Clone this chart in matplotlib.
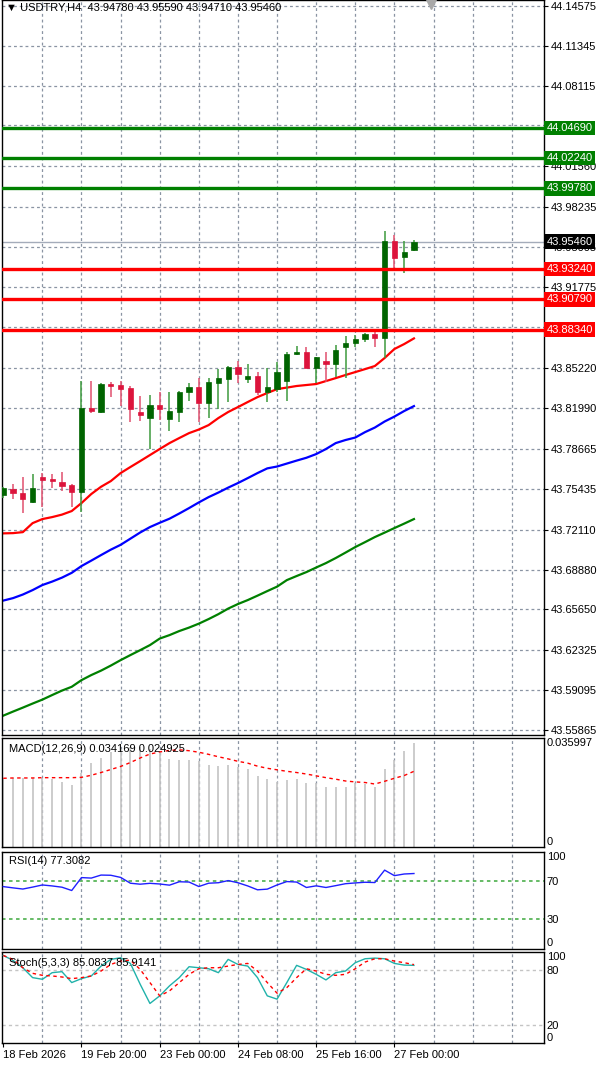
import matplotlib
matplotlib.use("Agg")
import matplotlib.pyplot as plt
from matplotlib.patches import Rectangle

plt.rcParams['font.family'] = ['Liberation Sans', 'DejaVu Sans']

# USDTRY H4 bars, 18 Feb 12:00 -> 27 Feb 08:00
opens = [43.7492, 43.7538, 43.7510, 43.7437, 43.7640, 43.7621, 43.7599, 43.7570, 43.7513, 43.8200,
         43.8167, 43.8392, 43.8384, 43.8362, 43.8167, 43.8118, 43.8221, 43.8106, 43.8167, 43.8324,
         43.8370, 43.8235, 43.8402, 43.8430, 43.8527, 43.8432, 43.8459, 43.8329, 43.8349, 43.8416,
         43.8633, 43.8649, 43.8519, 43.8578, 43.8554, 43.8694, 43.8722, 43.8757, 43.8797, 43.8762,
         43.9554, 43.9424, 43.9478]
highs = [43.7559, 43.7581, 43.7640, 43.7659, 43.7668, 43.7659, 43.7676, 43.7581, 43.8419, 43.8419,
         43.8397, 43.8406, 43.8419, 43.8378, 43.8294, 43.8303, 43.8329, 43.8329, 43.8335, 43.8402,
         43.8438, 43.8438, 43.8511, 43.8538, 43.8581, 43.8552, 43.8492, 43.8519, 43.8573, 43.8654,
         43.8700, 43.8689, 43.8608, 43.8649, 43.8708, 43.8781, 43.8789, 43.8808, 43.8830, 43.9635,
         43.9600, 43.9554, 43.9559]
lows = [43.7467, 43.7457, 43.7343, 43.7430, 43.7397, 43.7546, 43.7524, 43.7397, 43.7356, 43.8154,
        43.8159, 43.8289, 43.8216, 43.8086, 43.8094, 43.7862, 43.8100, 43.8011, 43.8086, 43.8256,
        43.8086, 43.8116, 43.8187, 43.8248, 43.8397, 43.8402, 43.8303, 43.8248, 43.8329, 43.8256,
        43.8627, 43.8519, 43.8397, 43.8406, 43.8446, 43.8438, 43.8694, 43.8735, 43.8694, 43.8600,
        43.9316, 43.9294, 43.9471]
closes = [43.7546, 43.7505, 43.7457, 43.7551, 43.7613, 43.7605, 43.7565, 43.7513, 43.8200, 43.8175,
          43.8392, 43.8376, 43.8354, 43.8189, 43.8138, 43.8221, 43.8187, 43.8173, 43.8329, 43.8370,
          43.8235, 43.8410, 43.8438, 43.8527, 43.8473, 43.8459, 43.8329, 43.8370, 43.8492, 43.8635,
          43.8651, 43.8524, 43.8608, 43.8554, 43.8667, 43.8727, 43.8757, 43.8797, 43.8762, 43.9554,
          43.9411, 43.9465, 43.9546]

# moving averages (red / blue / green)
ma_red = [43.7181, 43.7183, 43.7191, 43.7264, 43.7297, 43.7313, 43.7333, 43.7362, 43.7427, 43.7500,
          43.7559, 43.7605, 43.7670, 43.7719, 43.7767, 43.7816, 43.7865, 43.7913, 43.7954, 43.7994,
          43.8023, 43.8059, 43.8116, 43.8165, 43.8205, 43.8246, 43.8286, 43.8319, 43.8351, 43.8363,
          43.8376, 43.8384, 43.8392, 43.8416, 43.8440, 43.8465, 43.8489, 43.8513, 43.8538, 43.8603,
          43.8676, 43.8716, 43.8762]
ma_blue = [43.6636, 43.6656, 43.6685, 43.6721, 43.6762, 43.6790, 43.6822, 43.6861, 43.6916, 43.6960,
           43.7005, 43.7049, 43.7088, 43.7138, 43.7188, 43.7232, 43.7267, 43.7300, 43.7342, 43.7386,
           43.7432, 43.7475, 43.7512, 43.7552, 43.7589, 43.7629, 43.7670, 43.7708, 43.7723, 43.7747,
           43.7771, 43.7794, 43.7824, 43.7865, 43.7913, 43.7938, 43.7958, 43.8002, 43.8039, 43.8088,
           43.8128, 43.8173, 43.8213]
ma_green = [43.5703, 43.5736, 43.5768, 43.5801, 43.5833, 43.5870, 43.5906, 43.5937, 43.5991, 43.6032,
            43.6068, 43.6109, 43.6153, 43.6194, 43.6234, 43.6275, 43.6328, 43.6356, 43.6389, 43.6417,
            43.6449, 43.6486, 43.6526, 43.6571, 43.6608, 43.6640, 43.6676, 43.6713, 43.6749, 43.6802,
            43.6835, 43.6867, 43.6904, 43.6940, 43.6981, 43.7025, 43.7070, 43.7110, 43.7151, 43.7187,
            43.7224, 43.7260, 43.7297]

macd_main = [0.0228, 0.0228, 0.0226, 0.0226, 0.0228, 0.0223, 0.0215, 0.0204, 0.0242, 0.0275,
             0.0294, 0.0312, 0.0322, 0.0328, 0.0330, 0.0322, 0.0310, 0.0291, 0.0287, 0.0287,
             0.0282, 0.0271, 0.0268, 0.0271, 0.0262, 0.0255, 0.0235, 0.0223, 0.0215, 0.0220,
             0.0223, 0.0211, 0.0209, 0.0198, 0.0198, 0.0198, 0.0209, 0.0206, 0.0198, 0.0255,
             0.0286, 0.0316, 0.0342]
macd_signal = [0.0226, 0.0227, 0.0227, 0.0227, 0.0228, 0.0228, 0.0228, 0.0228, 0.0229, 0.0236,
               0.0245, 0.0255, 0.0265, 0.0278, 0.0293, 0.0306, 0.0313, 0.0318, 0.0320, 0.0317,
               0.0312, 0.0305, 0.0297, 0.0290, 0.0282, 0.0276, 0.0266, 0.0259, 0.0254, 0.0249,
               0.0245, 0.0240, 0.0234, 0.0228, 0.0223, 0.0217, 0.0214, 0.0212, 0.0207, 0.0216,
               0.0226, 0.0235, 0.0249]

rsi = [63.8, 62.5, 61.3, 63.3, 65.5, 64.5, 63.2, 59.8, 73.1, 72.6,
       75.7, 75.5, 73.3, 67.3, 66.3, 67.2, 66.5, 65.3, 68.8, 68.5,
       63.9, 67.3, 67.8, 70.0, 67.8, 64.5, 60.5, 61.2, 65.5, 69.0,
       68.5, 62.9, 64.6, 62.9, 64.8, 66.8, 67.6, 68.3, 68.0, 80.8,
       75.1, 76.8, 77.3]

stoch_k = [95.9, 90.5, 82.5, 71.7, 69.9, 77.1, 78.2, 66.3, 70.6, 73.5,
           84.3, 91.6, 93.4, 87.2, 64.5, 43.5, 51.8, 62.7, 71.7, 83.6,
           82.5, 81.4, 77.1, 91.6, 86.1, 84.3, 71.7, 51.8, 48.2, 66.3,
           85.1, 80.7, 75.3, 69.2, 77.1, 78.9, 88.0, 92.3, 93.0, 92.3,
           87.2, 85.4, 85.1]
stoch_d = [95.9, 91.6, 82.5, 76.4, 74.2, 73.5, 72.4, 70.6, 71.7, 73.5,
           78.9, 86.1, 89.8, 90.8, 80.7, 66.3, 51.8, 57.2, 66.3, 75.3,
           81.4, 82.5, 82.5, 84.3, 86.1, 87.2, 78.9, 66.3, 54.7, 60.8,
           71.7, 81.4, 78.9, 75.3, 74.2, 75.3, 81.4, 88.7, 92.3, 92.3,
           89.8, 88.0, 85.9]

# grid levels of the price scale; the ones under a level box show no text
price_ticks = [44.14575, 44.11345, 44.08115, 44.04885, 44.01560, 43.98235, 43.95005, 43.91775,
               43.88545, 43.85220, 43.81990, 43.78665, 43.75435, 43.72110, 43.68880, 43.65650,
               43.62325, 43.59095, 43.55865]
hidden_ticks = [44.04885, 43.88545]
resistance = [44.04690, 44.02240, 43.99780]
support = [43.93240, 43.90790, 43.88340]
last_price = 43.95460

date_labels = ['18 Feb 2026', '19 Feb 20:00', '23 Feb 00:00', '24 Feb 08:00', '25 Feb 16:00', '27 Feb 00:00']
date_bars = [0, 8, 16, 24, 32, 40]
grid_bars = list(range(4, 56, 4))

FS = 8
GRID = dict(color='#8a94a3', lw=0.9, ls=(0, (2.3, 2.3)), zorder=0)
W, H = 600, 1067

fig = plt.figure(figsize=(6, 10.67), dpi=100)


def panel(top, bottom):
    return fig.add_axes([2 / W, 1 - bottom / H, 542 / W, (bottom - top) / H])


ax = panel(0, 735)
ax_macd = panel(737.7, 846.7)
ax_rsi = panel(851.5, 948.5)
ax_st = panel(951.7, 1043.3)
axes = [ax, ax_macd, ax_rsi, ax_st]

n = len(closes)
xs = list(range(n))
for a in axes:
    a.set_xlim(-0.13, 55.3)
    for s in a.spines.values():
        s.set_color('black')
        s.set_linewidth(1.0)
    for g in grid_bars:
        a.axvline(g, **GRID)
    a.yaxis.tick_right()
    a.tick_params(axis='y', direction='out', length=3, width=0.8, labelsize=FS, pad=2)
    a.tick_params(axis='x', bottom=False, labelbottom=False)

# ---- main price panel
ax.set_ylim(43.5546, 44.1506)
ax.set_yticks(price_ticks)
ax.set_yticklabels(['' if v in hidden_ticks else f'{v:.5f}' for v in price_ticks])
for v in price_ticks:
    ax.axhline(v, **GRID)

for i in xs:
    o, h, l, c = opens[i], highs[i], lows[i], closes[i]
    col = '#006400' if c >= o else '#dc143c'
    wick = '#3d9a3d' if c >= o else '#e0506e'
    ax.vlines(i, l, h, color=wick, lw=1.1, zorder=3)
    ax.add_patch(Rectangle((i - 0.27, min(o, c)), 0.54, max(abs(c - o), 0.0009),
                           facecolor=col, edgecolor=col, lw=0.5, zorder=4))

ax.plot(xs, ma_red, color='#ff0000', lw=1.6, zorder=2)
ax.plot(xs, ma_blue, color='#0000ff', lw=1.6, zorder=2)
ax.plot(xs, ma_green, color='#008000', lw=1.6, zorder=2)

for v in resistance:
    ax.axhline(v, color='#008000', lw=2.4, zorder=5)
for v in support:
    ax.axhline(v, color='#ff0000', lw=2.4, zorder=5)
ax.axhline(last_price, color='#a4acba', lw=1.0, zorder=1)

ytr = ax.get_yaxis_transform()
for vals, fc in [(resistance, '#008000'), (support, '#ff0000'), ([last_price], '#000000')]:
    for v in vals:
        ax.text(1.0045, v, f'{v:.5f}', transform=ytr, ha='left', va='center', color='white',
                fontsize=FS, zorder=10,
                bbox=dict(boxstyle='square,pad=0.2', fc=fc, ec='none'))

ax.plot([43.7], [1 - 3 / 735], transform=ax.get_xaxis_transform(), marker='v', ms=8,
        color='#a8a8a8', clip_on=False, zorder=6)
ax.text(4 / 542, 1 - 8 / 735, '\u25bc USDTRY,H4  43.94780 43.95590 43.94710 43.95460',
        transform=ax.transAxes, ha='left', va='center', fontsize=FS)

# ---- MACD
ax_macd.set_ylim(0, 0.036)
ax_macd.vlines(xs, 0, macd_main, color='#c4c4c4', lw=1.2, zorder=2)
ax_macd.plot(xs, macd_signal, color='#ff0000', lw=1.0, ls=(0, (2.5, 2.5)), zorder=3)
ax_macd.set_yticks([0, 0.036])
ax_macd.set_yticklabels(['0', '0.035997'])
labs = ax_macd.get_yticklabels()
labs[0].set_va('bottom')
labs[1].set_va('top')
ax_macd.tick_params(axis='y', length=0)
ax_macd.text(7 / 542, 0.9, 'MACD(12,26,9) 0.034169 0.024925', transform=ax_macd.transAxes,
             ha='left', va='center', fontsize=FS, zorder=5)

# ---- RSI
ax_rsi.set_ylim(0, 100)
for lv in [70, 30]:
    ax_rsi.axhline(lv, color='#3ca83c', lw=1.1, ls=(0, (2.3, 2.3)), zorder=1)
ax_rsi.plot(xs, rsi, color='#1f1fff', lw=1.0, zorder=3)
ax_rsi.set_yticks([0, 30, 70, 100])
ax_rsi.set_yticklabels(['0', '30', '70', '100'])
labs = ax_rsi.get_yticklabels()
labs[0].set_va('bottom')
labs[3].set_va('top')
ax_rsi.tick_params(axis='y', length=0)
ax_rsi.text(7 / 542, 0.9, 'RSI(14) 77.3082', transform=ax_rsi.transAxes,
            ha='left', va='center', fontsize=FS, zorder=5)

# ---- Stochastic
ax_st.set_ylim(0, 100)
for lv in [80, 20]:
    ax_st.axhline(lv, color='#c4c4c4', lw=1.0, ls=(0, (2.3, 2.3)), zorder=1)
ax_st.plot(xs, stoch_k, color='#20b2aa', lw=1.0, zorder=3)
ax_st.plot(xs, stoch_d, color='#ff0000', lw=1.0, ls=(0, (2.5, 2.5)), zorder=3)
ax_st.set_yticks([0, 20, 80, 100])
ax_st.set_yticklabels(['0', '20', '80', '100'])
labs = ax_st.get_yticklabels()
labs[0].set_va('bottom')
labs[3].set_va('top')
ax_st.tick_params(axis='y', length=0)
ax_st.text(7 / 542, 0.88, 'Stoch(5,3,3) 85.0837 85.9141', transform=ax_st.transAxes,
           ha='left', va='center', fontsize=FS, zorder=5)

ax_st.set_xticks(date_bars)
ax_st.set_xticklabels(date_labels)
ax_st.tick_params(axis='x', bottom=True, labelbottom=True, direction='out', length=3,
                  width=0.8, labelsize=FS, pad=2)
for lab in ax_st.get_xticklabels():
    lab.set_ha('left')

fig.savefig('out.png', dpi=100)
